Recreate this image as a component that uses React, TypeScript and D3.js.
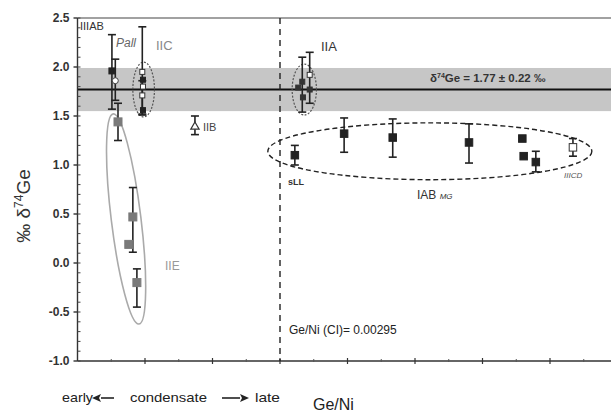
import React from 'react';
import * as d3 from 'd3';

const width = 611;
const height = 414;

// y ticks and reference band
const yMajor = [-1.0, -0.5, 0.0, 0.5, 1.0, 1.5, 2.0, 2.5];
const meanValue = 1.77;
const meanSpread = 0.22;
const ciRatioAt = 3; // Ge/Ni (CI) position on the x axis

// groups: x, value, error bar low/high (null = no bar), open symbol?
const iiiab = [{ x: 0.51, y: 1.96, lo: 1.57, hi: 2.33, open: false }];
const pall = [{ x: 0.56, y: 1.86, lo: 1.66, hi: 2.08, open: true }];
const iic = [
  { x: 0.96, y: 1.95, lo: 1.51, hi: 2.41, open: true },
  { x: 0.97, y: 1.87, lo: null, hi: null, open: false },
  { x: 0.97, y: 1.80, lo: null, hi: null, open: true },
  { x: 0.96, y: 1.71, lo: 1.52, hi: 1.86, open: true },
  { x: 0.97, y: 1.56, lo: null, hi: null, open: false },
];
const iib = [{ x: 1.74, y: 1.39, lo: 1.31, hi: 1.5 }];
const iie = [
  { x: 0.6, y: 1.44, lo: 1.25, hi: 1.63 },
  { x: 0.82, y: 0.47, lo: 0.11, hi: 0.77 },
  { x: 0.76, y: 0.19, lo: null, hi: null },
  { x: 0.88, y: -0.2, lo: -0.45, hi: -0.06 },
];
const iia = [
  { x: 3.27, y: 1.79, lo: null, hi: null, open: false },
  { x: 3.33, y: 1.85, lo: 1.54, hi: 2.1, open: false },
  { x: 3.44, y: 1.92, lo: 1.63, hi: 2.15, open: true },
  { x: 3.44, y: 1.77, lo: null, hi: null, open: false },
  { x: 3.34, y: 1.69, lo: null, hi: null, open: false },
];
const iab = [
  { x: 3.22, y: 1.1, lo: 1.0, hi: 1.2, open: false },
  { x: 3.95, y: 1.32, lo: 1.13, hi: 1.48, open: false },
  { x: 4.67, y: 1.28, lo: 1.08, hi: 1.47, open: false },
  { x: 5.8, y: 1.23, lo: 1.02, hi: 1.42, open: false },
  { x: 6.59, y: 1.27, lo: null, hi: null, open: false },
  { x: 6.61, y: 1.09, lo: null, hi: null, open: false },
  { x: 6.79, y: 1.03, lo: 0.93, hi: 1.14, open: false },
  { x: 7.34, y: 1.18, lo: 1.09, hi: 1.27, open: true },
];

// group outlines: centre x, centre y, half width (x units), half height (y units), tilt
const outlines = [
  { name: 'IIC', cx: 0.98, cy: 1.77, rx: 0.16, ry: 0.28, tilt: 0, stroke: '#555', dash: '2,1.5', sw: 1.2 },
  { name: 'IIE', cx: 0.72, cy: 0.45, rx: 0.22, ry: 1.08, tilt: -7, stroke: '#aaa', dash: null, sw: 1.6 },
  { name: 'IIA', cx: 3.36, cy: 1.77, rx: 0.18, ry: 0.26, tilt: 0, stroke: '#555', dash: '2,1.5', sw: 1.2 },
  { name: 'IAB', cx: 5.22, cy: 1.14, rx: 2.4, ry: 0.29, tilt: 0, stroke: '#222', dash: '5,3', sw: 1.4 },
];

const font = 'Liberation Sans, Arial, sans-serif';

const x = d3.scaleLinear().domain([0, 8]).range([77.5, 617.5]);
const y = d3.scaleLinear().domain([-1, 2.5]).range([361, 18]);

const fmt = (v: number) => d3.format('.1f')(v).replace('\u2212', '-');

const ErrBar = ({ d, color }: any) => {
  if (d.lo == null) return null;
  const cx = x(d.x);
  return (
    <g stroke={color} strokeWidth={1.6}>
      <line x1={cx} x2={cx} y1={y(d.hi)} y2={y(d.lo)} />
      <line x1={cx - 4} x2={cx + 4} y1={y(d.hi)} y2={y(d.hi)} />
      <line x1={cx - 4} x2={cx + 4} y1={y(d.lo)} y2={y(d.lo)} />
    </g>
  );
};

const Square = ({ d, fill, size = 7 }: any) => (
  <rect
    x={x(d.x) - size / 2}
    y={y(d.y) - size / 2}
    width={size}
    height={size}
    fill={d.open ? '#fff' : fill}
    stroke={d.open ? '#333' : fill}
    strokeWidth={1}
  />
);

// horizontal arrow with a filled head, from x0 to x1 at height yy
const Arrow = ({ x0, x1, yy }: any) => {
  const dir = Math.sign(x1 - x0);
  const hx = x1 - dir * 9;
  return (
    <g>
      <line x1={x0} x2={hx} y1={yy} y2={yy} stroke="#222" strokeWidth={1.6} />
      <path d={`M${x1},${yy} L${hx},${yy - 4} L${hx + dir * 2},${yy} L${hx},${yy + 4} Z`} fill="#222" />
    </g>
  );
};

const App = () => {
  const minorY = d3.range(-1, 2.5001, 0.1);
  const minorX = d3.range(0.5, 8, 1);
  const majorX = d3.range(1, 8.01, 1);

  return (
    <svg
      width={width}
      height={height}
      style={{ position: 'absolute', left: 0, top: 0, background: '#fff' }}
      fontFamily={font}
    >
      {/* band of mean +- spread */}
      <rect
        x={x(0)}
        y={y(meanValue + meanSpread)}
        width={width - x(0)}
        height={y(meanValue - meanSpread) - y(meanValue + meanSpread)}
        fill="#c6c6c6"
      />
      <line x1={x(0)} x2={width} y1={y(meanValue)} y2={y(meanValue)} stroke="#111" strokeWidth={2} />
      <text x={430} y={y(meanValue) - 8} fontSize={11.5} fontWeight="bold" fill="#333">
        δ<tspan fontSize={7} dy={-4}>74</tspan>
        <tspan dy={4}>Ge = 1.77 ± 0.22 ‰</tspan>
      </text>

      {/* frame */}
      <line x1={x(0)} x2={width} y1={y(2.5)} y2={y(2.5)} stroke="#444" strokeWidth={1.2} />
      <line x1={x(0)} x2={x(0)} y1={y(2.5)} y2={y(-1)} stroke="#333" strokeWidth={1.4} />
      <line x1={x(0)} x2={width} y1={y(-1)} y2={y(-1)} stroke="#333" strokeWidth={1.6} />

      {minorY.map((t) => (
        <line key={'my' + t} x1={x(0)} x2={x(0) + 3} y1={y(t)} y2={y(t)} stroke="#444" strokeWidth={1} />
      ))}
      {yMajor.map((t) => (
        <g key={'y' + t}>
          <line x1={x(0) - 4} x2={x(0)} y1={y(t)} y2={y(t)} stroke="#333" strokeWidth={1.4} />
          <text x={x(0) - 8} y={y(t)} dy="0.35em" textAnchor="end" fontSize={12} fontWeight="bold" fill="#333">
            {fmt(t)}
          </text>
        </g>
      ))}
      {majorX.map((t) => (
        <line key={'x' + t} x1={x(t)} x2={x(t)} y1={y(-1) - 3} y2={y(-1) + 3} stroke="#333" strokeWidth={1.2} />
      ))}
      {minorX.map((t) => (
        <line key={'mx' + t} x1={x(t)} x2={x(t)} y1={y(-1) - 2} y2={y(-1) + 1} stroke="#555" strokeWidth={1} />
      ))}

      {/* Ge/Ni of CI chondrites */}
      <line
        x1={x(ciRatioAt)}
        x2={x(ciRatioAt)}
        y1={y(2.5)}
        y2={y(-1)}
        stroke="#222"
        strokeWidth={1.4}
        strokeDasharray="6,5"
      />
      <text x={x(ciRatioAt) + 9} y={y(-0.72)} fontSize={12} fill="#222">
        Ge/Ni (CI)= 0.00295
      </text>

      {/* outlines */}
      {outlines.map((o) => {
        const cx = x(o.cx);
        const cy = y(o.cy);
        return (
          <ellipse
            key={o.name}
            cx={cx}
            cy={cy}
            rx={x(o.cx + o.rx) - cx}
            ry={cy - y(o.cy + o.ry)}
            fill="none"
            stroke={o.stroke}
            strokeWidth={o.sw}
            strokeDasharray={o.dash || undefined}
            transform={`rotate(${o.tilt} ${cx} ${cy})`}
          />
        );
      })}

      {/* error bars */}
      {iiiab.map((d, i) => <ErrBar key={'a' + i} d={d} color="#222" />)}
      {pall.map((d, i) => <ErrBar key={'p' + i} d={d} color="#222" />)}
      {iic.map((d, i) => <ErrBar key={'c' + i} d={d} color="#222" />)}
      {iib.map((d, i) => <ErrBar key={'b' + i} d={d} color="#222" />)}
      {iie.map((d, i) => <ErrBar key={'e' + i} d={d} color="#222" />)}
      {iia.map((d, i) => <ErrBar key={'ia' + i} d={d} color="#222" />)}
      {iab.map((d, i) => <ErrBar key={'ab' + i} d={d} color="#222" />)}

      {/* symbols */}
      {iiiab.map((d, i) => <Square key={'sa' + i} d={d} fill="#222" size={6} />)}
      {pall.map((d, i) => (
        <circle key={'sp' + i} cx={x(d.x)} cy={y(d.y)} r={3} fill="#fff" stroke="#444" />
      ))}
      {iic.map((d, i) => <Square key={'sc' + i} d={d} fill="#222" size={5} />)}
      {iib.map((d, i) => (
        <path
          key={'sb' + i}
          d={d3.symbol(d3.symbolTriangle, 30)() || ''}
          transform={`translate(${x(d.x)},${y(d.y)})`}
          fill="#fff"
          stroke="#333"
          strokeWidth={1.2}
        />
      ))}
      {iie.map((d, i) => <Square key={'se' + i} d={d} fill="#7a7a7a" size={8} />)}
      {iia.map((d, i) => <Square key={'si' + i} d={d} fill="#333" size={5} />)}
      {iab.map((d, i) => <Square key={'sab' + i} d={d} fill="#222" size={7.5} />)}

      {/* group labels */}
      <text x={80} y={30} fontSize={11} fill="#333">IIIAB</text>
      <text x={116} y={47} fontSize={12} fontStyle="italic" fill="#666">Pall</text>
      <text x={156} y={50} fontSize={13} fill="#888">IIC</text>
      <text x={203} y={131} fontSize={11} fill="#444">IIB</text>
      <text x={165} y={270} fontSize={12} fill="#999">IIE</text>
      <text x={321} y={51} fontSize={13} fill="#333">IIA</text>
      <text x={288} y={185} fontSize={9} fontWeight="bold" fill="#333">sLL</text>
      <text x={417} y={199} fontSize={12} fill="#333">
        IAB <tspan fontSize={8} fontStyle="italic">MG</tspan>
      </text>
      <text x={564} y={178} fontSize={8} fontStyle="italic" fill="#555">IIICD</text>

      {/* axis titles */}
      <text transform="translate(30,206) rotate(-90)" textAnchor="middle" fontSize={19} fill="#333">
        ‰ δ<tspan fontSize={12} dy={-7}>74</tspan>
        <tspan dy={7}>Ge</tspan>
      </text>
      <text x={62} y={402} fontSize={13} fill="#222" textLength={31} lengthAdjust="spacingAndGlyphs">early</text>
      <Arrow x0={114} x1={92} yy={398} />
      <text x={130} y={402} fontSize={13} fill="#222" textLength={77} lengthAdjust="spacingAndGlyphs">condensate</text>
      <Arrow x0={222} x1={249} yy={398} />
      <text x={255} y={402} fontSize={13} fill="#222" textLength={25} lengthAdjust="spacingAndGlyphs">late</text>
      <text x={313} y={410} fontSize={16} fill="#222">Ge/Ni</text>
    </svg>
  );
};

export default App;
